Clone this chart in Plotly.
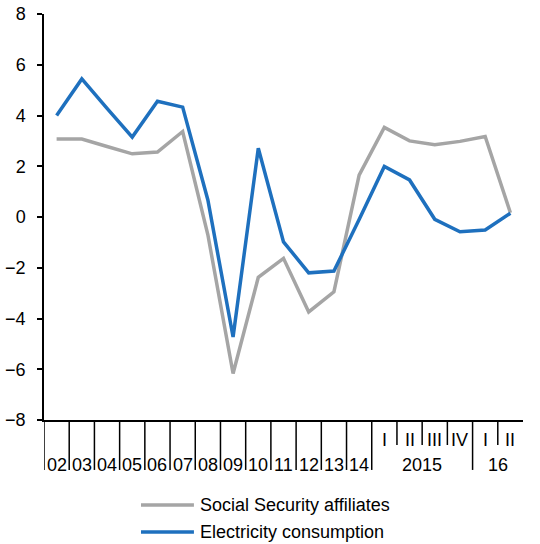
import plotly.graph_objects as go

years = ["02", "03", "04", "05", "06", "07", "08", "09", "10", "11", "12", "13", "14"]
quarters_2015 = ["I", "II", "III", "IV"]
quarters_2016 = ["I", "II"]
group_labels = years + ["2015", "16"]

social_security = [3.07, 3.07, 2.78, 2.49, 2.56, 3.37, -0.7, -6.17, -2.38, -1.63, -3.74, -2.95, 1.65,
                   3.53, 3.0, 2.85, 2.98, 3.17, 0.17]
electricity = [4.0, 5.44, 4.28, 3.15, 4.56, 4.33, 0.67, -4.73, 2.71, -0.98, -2.2, -2.13, -0.1,
               1.99, 1.46, -0.09, -0.58, -0.51, 0.15]

series_names = ["Social Security affiliates", "Electricity consumption"]
colors = ["#A5A5A5", "#1E70BE"]

n = len(social_security)
x = list(range(n))
FONT = "Liberation Sans, Arial, sans-serif"

fig = go.Figure()
for name, vals, col in zip(series_names, [social_security, electricity], colors):
    fig.add_trace(go.Scatter(x=x, y=vals, mode="lines", name=name,
                             line=dict(color=col, width=3.5), showlegend=False))

shapes = []
annotations = []
# Separators below the axis
n_years = len(years)
q15_start = n_years
q16_start = n_years + len(quarters_2015)
long_seps = [k - 0.5 for k in range(0, n_years + 1)] + [q16_start - 0.5]
short_seps = [q15_start + k - 0.5 for k in range(1, len(quarters_2015))] + \
             [q16_start + k - 0.5 for k in range(1, len(quarters_2016))]
for xs in long_seps:
    shapes.append(dict(type="line", xref="x", yref="paper", x0=xs, x1=xs, y0=0, y1=-0.123,
                       line=dict(color="black", width=1.5)))
for xs in short_seps:
    shapes.append(dict(type="line", xref="x", yref="paper", x0=xs, x1=xs, y0=0, y1=-0.0616,
                       line=dict(color="black", width=1.5)))

# Quarter labels
quarter_labels = quarters_2015 + quarters_2016
for k, q in enumerate(quarter_labels):
    annotations.append(dict(x=q15_start + k, y=-0.049, xref="x", yref="paper", text=q,
                            showarrow=False, xanchor="center", yanchor="middle",
                            font=dict(size=18, color="black", family=FONT)))
# Year labels
group_pos = list(range(n_years)) + [q15_start + (len(quarters_2015) - 1) / 2,
                                    q16_start + (len(quarters_2016) - 1) / 2]
for g, pos in zip(group_labels, group_pos):
    annotations.append(dict(x=pos, y=-0.111, xref="x", yref="paper", text=g,
                            showarrow=False, xanchor="center", yanchor="middle",
                            font=dict(size=18, color="black", family=FONT)))

# Manual legend
leg_y = [-0.2094, -0.2759]
for name, col, ly in zip(series_names, colors, leg_y):
    shapes.append(dict(type="line", xref="paper", yref="paper", x0=0.2025, x1=0.313, y0=ly, y1=ly,
                       line=dict(color=col, width=3.5)))
    annotations.append(dict(x=0.3215, y=ly, xref="paper", yref="paper", text=name,
                            showarrow=False, xanchor="left", yanchor="middle",
                            font=dict(size=18, color="black", family=FONT)))

fig.update_layout(
    width=540, height=544,
    margin=dict(l=44, r=17, t=14, b=124, autoexpand=False),
    plot_bgcolor="white", paper_bgcolor="white",
    font=dict(family=FONT, size=18, color="black"),
    shapes=shapes, annotations=annotations,
    xaxis=dict(range=[-0.5, n - 0.5], showticklabels=False, ticks="", showgrid=False,
               zeroline=False, showline=True, linecolor="black", linewidth=1.5, fixedrange=True,
               automargin=False),
    yaxis=dict(range=[-8, 8], dtick=2, tick0=0, ticks="outside", ticklen=5, tickwidth=1.5,
               tickcolor="black", showgrid=False, zeroline=False, showline=True,
               linecolor="black", linewidth=1.5, ticklabelstandoff=8, automargin=False,
               tickfont=dict(size=18, family=FONT, color="black")),
)

fig.write_html("out.html", config={"displayModeBar": False},
               post_script="document.body.style.margin='0';document.body.style.overflow='hidden';")
